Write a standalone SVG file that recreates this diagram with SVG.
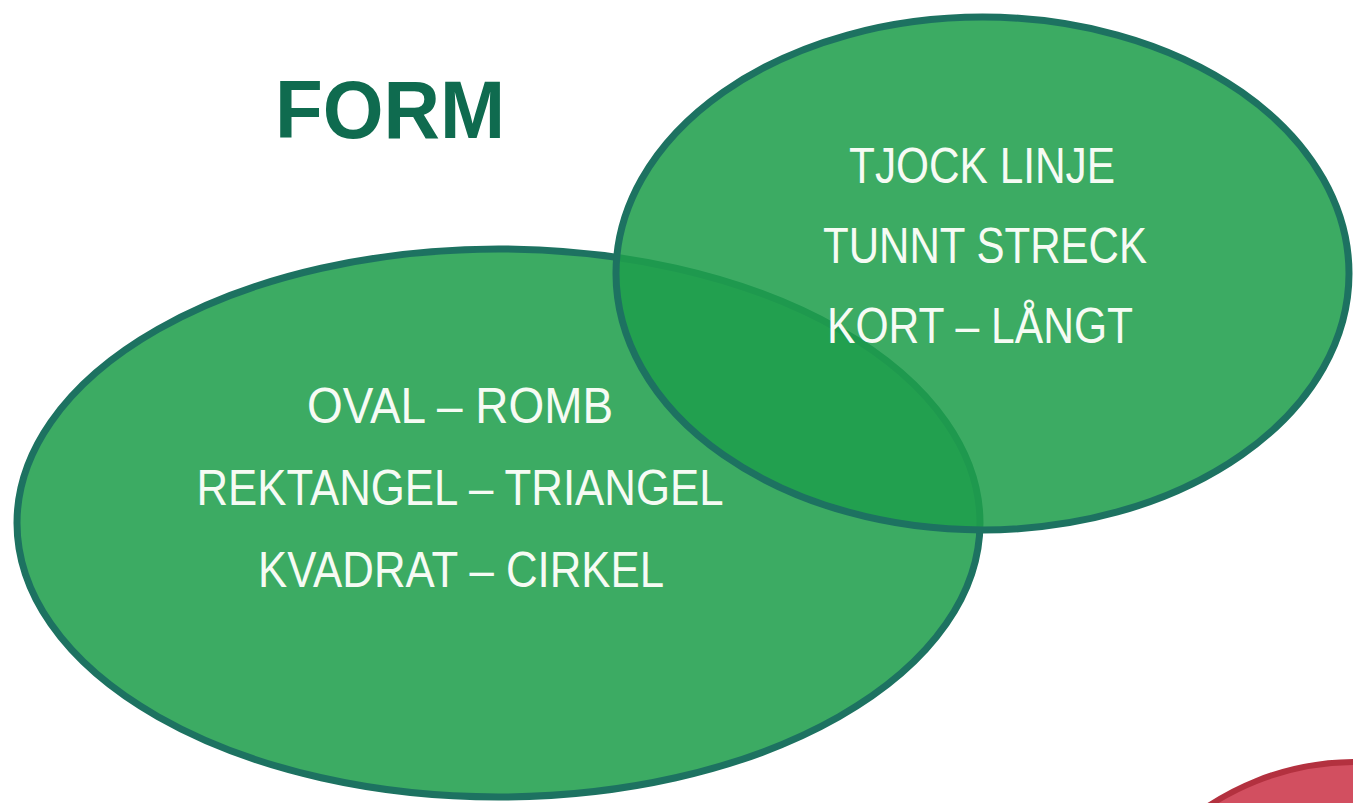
<svg xmlns="http://www.w3.org/2000/svg" width="1353" height="803" viewBox="0 0 1353 803">
<style>
.ell{fill:#1f9e4c;fill-opacity:0.87;stroke:#1d7261;stroke-width:7}
.lbl{font-family:"Liberation Sans",Arial,sans-serif;font-size:50px;fill:#f6fbf4;text-anchor:middle}
.title{font-family:"Liberation Sans",Arial,sans-serif;font-weight:bold;font-size:82px;fill:#0f6b4f}
</style>
<rect width="1353" height="803" fill="#ffffff"/>
<g id="red-shape">
<circle cx="1355" cy="1028" r="266" fill="#d24f60" stroke="#b3313f" stroke-width="6"/>
</g>
<g id="title">
<text class="title" x="275" y="138" textLength="230" lengthAdjust="spacingAndGlyphs">FORM</text>
</g>
<g id="form-ellipse">
<ellipse class="ell" cx="498.5" cy="523" rx="481.5" ry="274"/>
</g>
<g id="line-ellipse">
<ellipse class="ell" cx="982.5" cy="273.5" rx="366.5" ry="256.5"/>
</g>
<g id="form-labels">
<text class="lbl" x="460" y="423" textLength="306" lengthAdjust="spacingAndGlyphs">OVAL – ROMB</text>
<text class="lbl" x="460" y="505" textLength="527" lengthAdjust="spacingAndGlyphs">REKTANGEL – TRIANGEL</text>
<text class="lbl" x="461" y="587" textLength="406" lengthAdjust="spacingAndGlyphs">KVADRAT – CIRKEL</text>
</g>
<g id="line-labels">
<text class="lbl" x="982" y="183" textLength="266" lengthAdjust="spacingAndGlyphs">TJOCK LINJE</text>
<text class="lbl" x="985" y="263" textLength="324" lengthAdjust="spacingAndGlyphs">TUNNT STRECK</text>
<text class="lbl" x="980" y="343" textLength="306" lengthAdjust="spacingAndGlyphs">KORT – LÅNGT</text>
</g>
<g id="connectors"/>
</svg>
